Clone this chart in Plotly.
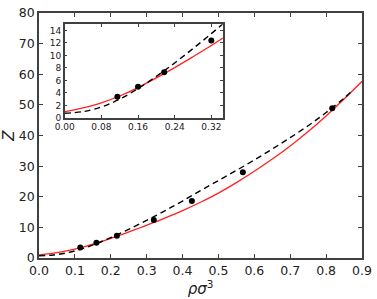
import plotly.graph_objects as go

# Simulation points
sim_x = [0.115, 0.16, 0.217, 0.32, 0.426, 0.568, 0.817]
sim_z = [3.4, 5.0, 7.3, 12.4, 18.6, 28.0, 48.9]

# Red solid curve
red_x = [0, 0.04, 0.08, 0.12, 0.16, 0.2, 0.24, 0.28, 0.32, 0.36, 0.4, 0.45,
         0.5, 0.55, 0.6, 0.65, 0.7, 0.75, 0.8, 0.85, 0.9]
red_z = [1.0, 1.6, 2.4, 3.5, 4.85, 6.4, 8.05, 9.8, 11.6, 13.5, 15.45, 18.2,
         21.2, 24.6, 28.3, 32.3, 36.6, 41.3, 46.4, 51.9, 57.7]

# Black dashed curve
dash_x = [0, 0.04, 0.08, 0.12, 0.16, 0.2, 0.24, 0.28, 0.32, 0.36, 0.4, 0.45,
          0.5, 0.55, 0.6, 0.65, 0.7, 0.75, 0.8, 0.85, 0.875]
dash_z = [0.75, 1.0, 1.75, 3.0, 4.7, 6.65, 8.8, 11.1, 13.5, 16.0, 18.6, 22.0,
          25.3, 28.6, 32.0, 35.6, 39.3, 43.2, 47.5, 52.2, 54.8]

main_xticks = [0.0, 0.1, 0.2, 0.3, 0.4, 0.5, 0.6, 0.7, 0.8, 0.9]
main_yticks = [0, 10, 20, 30, 40, 50, 60, 70, 80]
inset_xticks = [0.0, 0.08, 0.16, 0.24, 0.32]
inset_yticks = [0, 2, 4, 6, 8, 10, 12, 14]

fig = go.Figure()

for xa, ya in (("x", "y"), ("x2", "y2")):
    fig.add_trace(go.Scatter(x=red_x, y=red_z, mode="lines", line=dict(color="#ff2020", width=1.3, shape="spline"),
                             xaxis=xa, yaxis=ya, showlegend=False, hoverinfo="skip"))
    fig.add_trace(go.Scatter(x=dash_x, y=dash_z, mode="lines",
                             line=dict(color="black", width=1.4, dash="6px,4px", shape="spline"),
                             xaxis=xa, yaxis=ya, showlegend=False, hoverinfo="skip"))
    fig.add_trace(go.Scatter(x=sim_x, y=sim_z, mode="markers", marker=dict(color="black", size=6),
                             xaxis=xa, yaxis=ya, showlegend=False, cliponaxis=False))

axis_common = dict(showline=True, linecolor="#404040", linewidth=1.5, mirror="ticks",
                   ticks="inside", tickcolor="#404040", showgrid=False, zeroline=False,
                   ticklabeloverflow="allow")

fig.update_layout(
    width=377, height=299,
    margin=dict(l=39, r=11, t=5, b=41),
    plot_bgcolor="white", paper_bgcolor="white",
    font=dict(family="DejaVu Sans", color="#222222"),
    xaxis=dict(range=[0, 0.9], tickvals=main_xticks, ticktext=[f"{v:.1f}" for v in main_xticks],
               ticklen=4, tickwidth=1, tickfont=dict(size=12.5), domain=[0, 1],
               title=dict(text="<i>ρσ</i><sup>3</sup>", font=dict(size=15), standoff=2), **axis_common),
    yaxis=dict(range=[0, 80], tickvals=main_yticks, ticklen=4, tickwidth=1, tickfont=dict(size=12.5),
               domain=[0, 1], title=dict(text="<i>Z</i>", font=dict(size=15), standoff=2), **axis_common),
    xaxis2=dict(range=[0, 0.345], tickvals=inset_xticks, ticktext=[f"{v:.2f}" for v in inset_xticks],
                ticklen=3, tickwidth=1, tickfont=dict(size=9), domain=[0.0795, 0.569], anchor="y2",
                **axis_common),
    yaxis2=dict(range=[0, 15], tickvals=inset_yticks, ticklen=3, tickwidth=1, tickfont=dict(size=9),
                domain=[0.572, 0.954], anchor="x2", **axis_common),
)

fig.write_html("out.html", config={"displayModeBar": False},
               post_script="document.body.style.margin='0';")
